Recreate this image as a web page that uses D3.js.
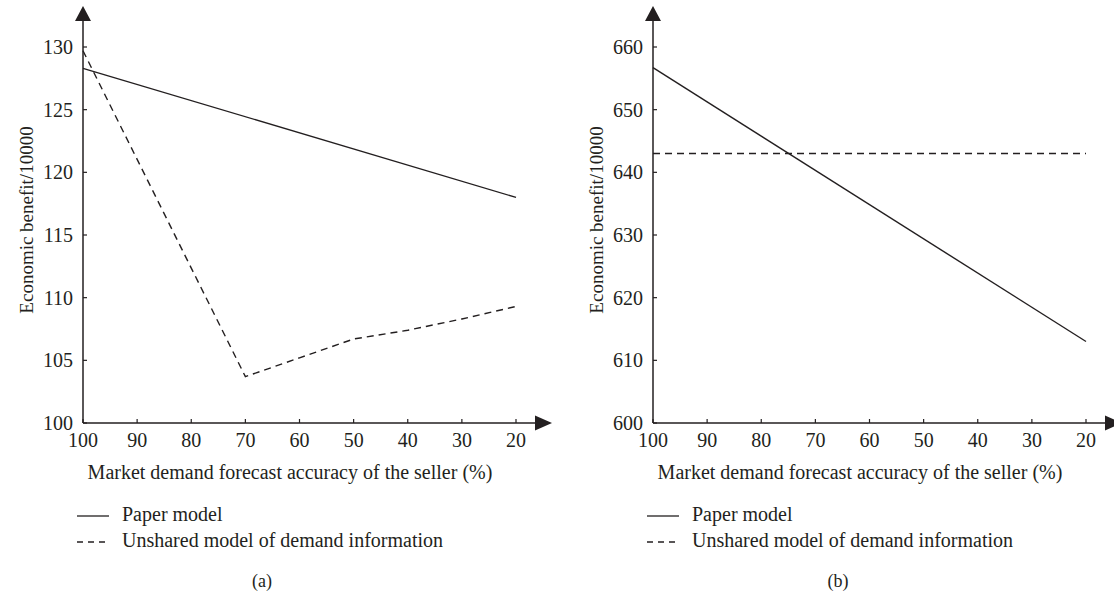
<!DOCTYPE html>
<html>
<head>
<meta charset="utf-8">
<script src="https://cdn.jsdelivr.net/npm/d3@7"></script>
<style>
  html, body { margin: 0; padding: 0; background: #fff; }
  svg text { font-family: "Liberation Serif", "Times New Roman", serif; fill: #231f20; }
</style>
</head>
<body>
<svg id="chart" width="1114" height="594"></svg>
<script>
// ---- Data ----
const xTicks = [100, 90, 80, 70, 60, 50, 40, 30, 20];

// Panel (a)
const aYTicks = [100, 105, 110, 115, 120, 125, 130];
const aPaperX = [100, 20];
const aPaperY = [128.3, 118.0];
const aUnsharedX = [100, 70, 60, 50, 40, 30, 20];
const aUnsharedY = [129.7, 103.7, 105.2, 106.7, 107.4, 108.3, 109.3];

// Panel (b)
const bYTicks = [600, 610, 620, 630, 640, 650, 660];
const bPaperX = [100, 20];
const bPaperY = [656.7, 613.0];
const bUnsharedX = [100, 20];
const bUnsharedY = [643.0, 643.0];

const yTitle = "Economic benefit/10000";
const xTitle = "Market demand forecast accuracy of the seller (%)";
const legendLabels = ["Paper model", "Unshared model of demand information"];

const ink = "#231f20";
const svg = d3.select("#chart");

function drawPanel(opt) {
  const g = svg.append("g");
  const x = d3.scaleLinear().domain([100, 20]).range([opt.x0, opt.x0 + 433]);
  const y = d3.scaleLinear().domain(opt.yDomain).range([423, 47]);

  // axes lines
  g.append("line").attr("x1", opt.x0).attr("x2", opt.x0 + 455)
    .attr("y1", 423).attr("y2", 423).attr("stroke", ink).attr("stroke-width", 1.5);
  g.append("line").attr("x1", opt.x0).attr("x2", opt.x0)
    .attr("y1", 423).attr("y2", 18).attr("stroke", ink).attr("stroke-width", 1.5);
  // arrowheads
  const ax = opt.x0 + 452;
  g.append("path").attr("d", `M${ax},415.5 L${ax + 17},423 L${ax},430.5 Z`).attr("fill", ink);
  g.append("path").attr("d", `M${opt.x0 - 8},21 L${opt.x0},6 L${opt.x0 + 8},21 Z`).attr("fill", ink);

  // x ticks
  xTicks.forEach(t => {
    g.append("line").attr("x1", x(t)).attr("x2", x(t)).attr("y1", 423).attr("y2", 419)
      .attr("stroke", ink).attr("stroke-width", 1.2);
    g.append("text").attr("x", x(t)).attr("y", 447).attr("text-anchor", "middle")
      .attr("font-size", 20).text(t);
  });
  // y ticks
  opt.yTicks.forEach(t => {
    g.append("line").attr("x1", opt.x0).attr("x2", opt.x0 + 4).attr("y1", y(t)).attr("y2", y(t))
      .attr("stroke", ink).attr("stroke-width", 1.2);
    g.append("text").attr("x", opt.x0 - 10).attr("y", y(t) + 7).attr("text-anchor", "end")
      .attr("font-size", 20).text(t);
  });

  // titles
  g.append("text").attr("transform", `translate(${opt.x0 - 50},220) rotate(-90)`)
    .attr("text-anchor", "middle").attr("font-size", 19).text(yTitle);
  g.append("text").attr("x", opt.x0 + 207).attr("y", 479).attr("text-anchor", "middle")
    .attr("font-size", 20).text(xTitle);

  // lines
  const line = d3.line().x(d => x(d[0])).y(d => y(d[1]));
  g.append("path").datum(opt.px.map((v, i) => [v, opt.py[i]])).attr("d", line)
    .attr("fill", "none").attr("stroke", ink).attr("stroke-width", 1.4);
  g.append("path").datum(opt.ux.map((v, i) => [v, opt.uy[i]])).attr("d", line)
    .attr("fill", "none").attr("stroke", ink).attr("stroke-width", 1.4)
    .attr("stroke-dasharray", "7,5");

  // legend
  const lx = opt.x0 - 6;
  g.append("line").attr("x1", lx).attr("x2", lx + 32).attr("y1", 516).attr("y2", 516)
    .attr("stroke", ink).attr("stroke-width", 1.3);
  g.append("line").attr("x1", lx).attr("x2", lx + 32).attr("y1", 542).attr("y2", 542)
    .attr("stroke", ink).attr("stroke-width", 1.3).attr("stroke-dasharray", "6,5");
  g.append("text").attr("x", lx + 45).attr("y", 521).attr("font-size", 20).text(legendLabels[0]);
  g.append("text").attr("x", lx + 45).attr("y", 547).attr("font-size", 20).text(legendLabels[1]);

  // panel label
  g.append("text").attr("x", opt.labelX).attr("y", 587).attr("text-anchor", "middle")
    .attr("font-size", 18).text(opt.label);
}

drawPanel({ x0: 83, yDomain: [100, 130], yTicks: aYTicks,
  px: aPaperX, py: aPaperY, ux: aUnsharedX, uy: aUnsharedY, label: "(a)", labelX: 262 });
drawPanel({ x0: 653, yDomain: [600, 660], yTicks: bYTicks,
  px: bPaperX, py: bPaperY, ux: bUnsharedX, uy: bUnsharedY, label: "(b)", labelX: 838 });
</script>
</body>
</html>
